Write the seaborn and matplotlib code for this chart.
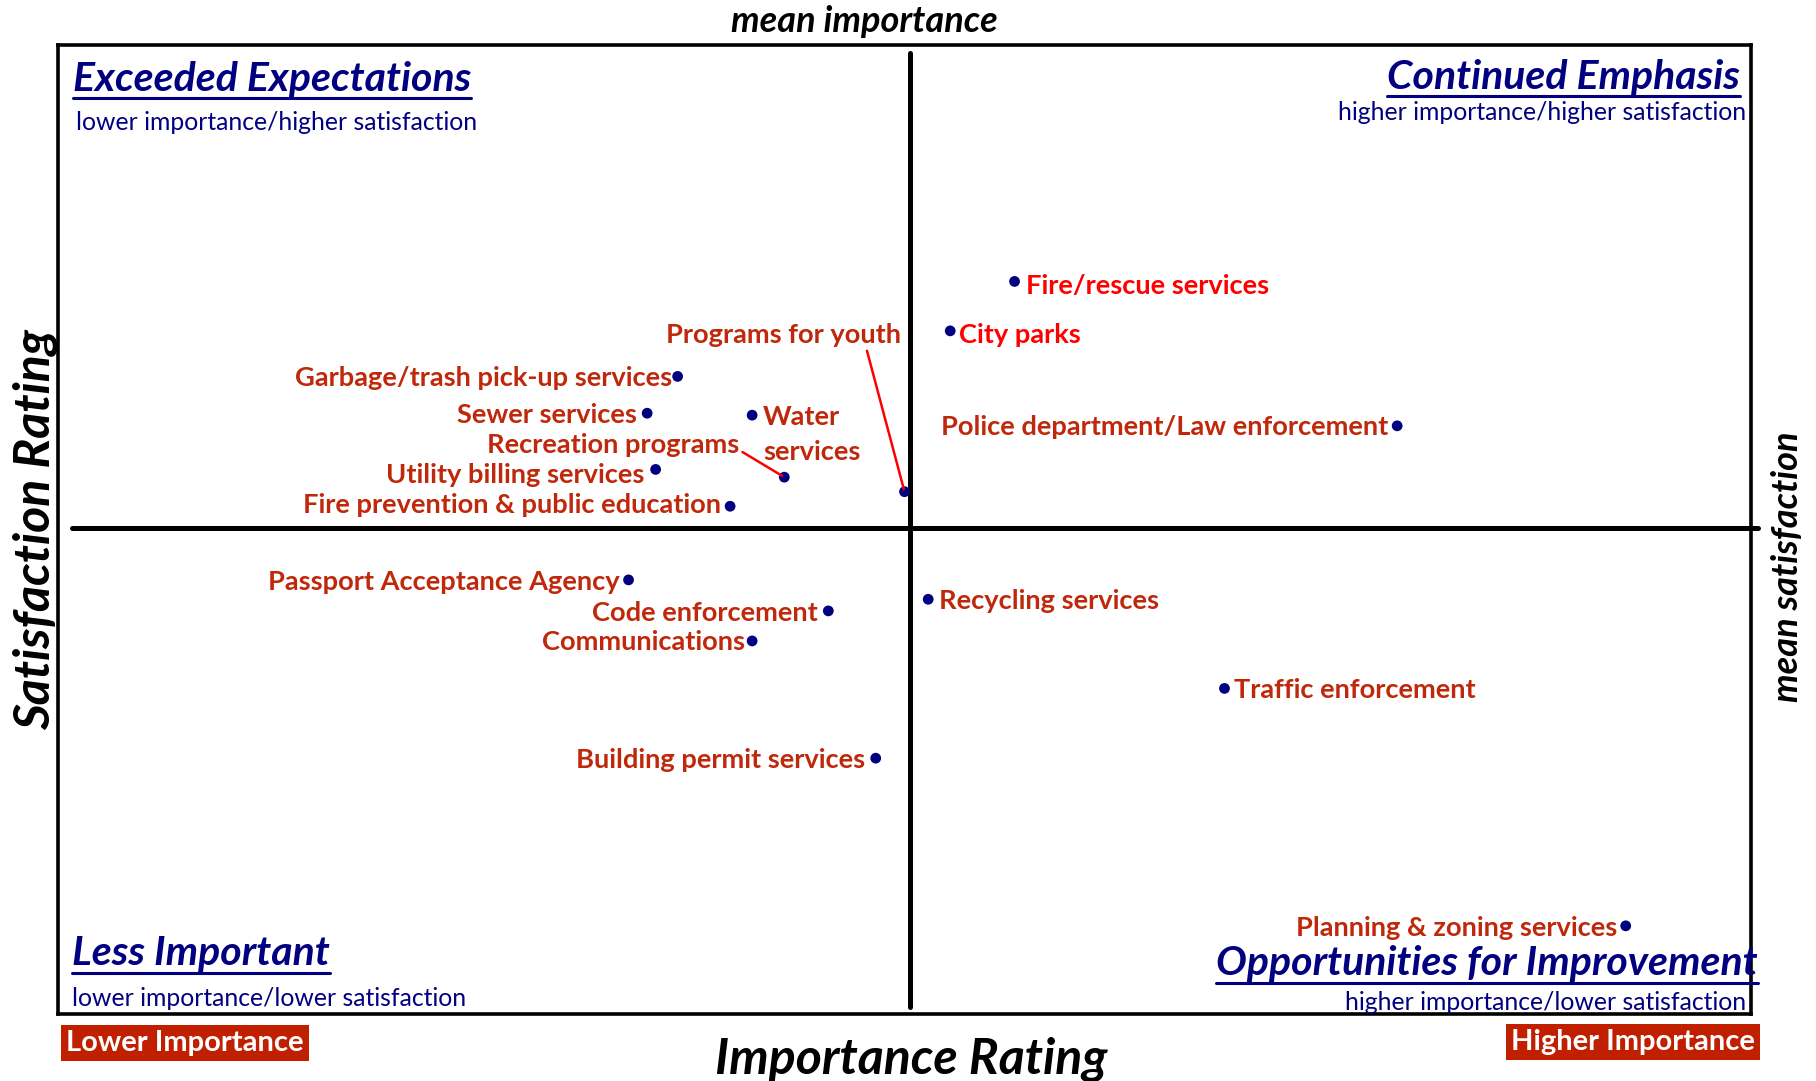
import matplotlib
matplotlib.use("Agg")
import matplotlib.pyplot as plt
import seaborn as sns
import pandas as pd
from matplotlib.lines import Line2D

# importance / satisfaction scores (scaled 0-100 across the plot frame)
services = [
    "Fire/rescue services", "City parks", "Programs for youth",
    "Garbage/trash pick-up services", "Sewer services", "Water\nservices",
    "Recreation programs", "Utility billing services",
    "Fire prevention & public education", "Police department/Law enforcement",
    "Passport Acceptance Agency", "Code enforcement", "Communications",
    "Building permit services", "Recycling services", "Traffic enforcement",
    "Planning & zoning services",
]
importance = [56.5, 52.7, 50.0, 36.6, 34.8, 41.0, 42.9, 35.3, 39.7, 79.1,
              33.7, 45.5, 41.0, 48.3, 51.4, 68.9, 92.6]
satisfaction = [75.6, 70.5, 53.9, 65.8, 62.0, 61.8, 55.4, 56.2, 52.4, 60.7,
                44.8, 41.6, 38.5, 26.4, 42.8, 33.6, 9.1]
mean_importance = 50.3
mean_satisfaction = 50.2

NAVY = "#000080"
DARK_RED = "#C0280B"
BRIGHT_RED = "#FF0000"
BOX_RED = "#C02000"

# label placement: dx, dy (points), ha, va, color, leader relpos
label_layout = {
    "Fire/rescue services": (8, -3.5, "left", "center", BRIGHT_RED, None),
    "City parks": (6, -3, "left", "center", BRIGHT_RED, None),
    "Programs for youth": (-2.5, 112.5, "right", "center", DARK_RED, (0.85, 0.05)),
    "Garbage/trash pick-up services": (-4, -1.5, "right", "center", DARK_RED, None),
    "Sewer services": (-7.5, -1.5, "right", "center", DARK_RED, None),
    "Water\nservices": (8, 7, "left", "top", DARK_RED, None),
    "Recreation programs": (-32.5, 23, "right", "center", DARK_RED, (1.0, 0.3)),
    "Utility billing services": (-8, -4, "right", "center", DARK_RED, None),
    "Fire prevention & public education": (-6.7, 1, "right", "center", DARK_RED, None),
    "Police department/Law enforcement": (-6.7, -0.5, "right", "center", DARK_RED, None),
    "Passport Acceptance Agency": (-6.7, -1.5, "right", "center", DARK_RED, None),
    "Code enforcement": (-7.5, -1.5, "right", "center", DARK_RED, None),
    "Communications": (-5, -0.8, "right", "center", DARK_RED, None),
    "Building permit services": (-7.5, -1.5, "right", "center", DARK_RED, None),
    "Recycling services": (7.5, -1.5, "left", "center", DARK_RED, None),
    "Traffic enforcement": (6.7, -0.8, "left", "center", DARK_RED, None),
    "Planning & zoning services": (-6, -1.5, "right", "center", DARK_RED, None),
}

df = pd.DataFrame({"service": services, "importance": importance,
                   "satisfaction": satisfaction})

sns.set_style("white")
plt.rcParams["font.family"] = ["Lato", "DejaVu Sans"]

W, H = 1816, 1081
fig = plt.figure(figsize=(W / 100, H / 100), dpi=100)
ax = fig.add_axes([58 / W, 1 - 1014 / H, (1751 - 58) / W, (1014 - 45) / H])
ax.set_xlim(0, 100)
ax.set_ylim(0, 100)
ax.set_xticks([])
ax.set_yticks([])
for sp in ax.spines.values():
    sp.set_visible(True)
    sp.set_color("black")
    sp.set_linewidth(2.6)

ax.axvline(mean_importance, ymin=0.007, ymax=0.992, color="black", lw=3.6, zorder=2)
ax.axhline(mean_satisfaction, xmin=0.008, xmax=1.004, color="black", lw=3.6,
           zorder=2, clip_on=False)

sns.scatterplot(data=df, x="importance", y="satisfaction", color=NAVY, s=60,
                edgecolor="none", ax=ax, legend=False, zorder=4)
ax.set_xlabel("")
ax.set_ylabel("")

for _, row in df.iterrows():
    dx, dy, ha, va, col, rel = label_layout[row["service"]]
    kw = {}
    if rel is not None:
        kw["arrowprops"] = dict(arrowstyle="-", color=BRIGHT_RED, lw=1.8,
                                relpos=rel, shrinkA=0, shrinkB=2)
    ax.annotate(row["service"], (row["importance"], row["satisfaction"]),
                xytext=(dx, dy), textcoords="offset points", ha=ha, va=va,
                color=col, fontsize=19.6, fontweight="bold", linespacing=1.55,
                zorder=5, **kw)


def fx(px):
    return px / W


def fy(py):
    return 1 - py / H


# quadrant titles (underlined) and descriptions
titles = [
    ("Exceeded Expectations", 73, 90.5, "left"),
    ("Continued Emphasis", 1740, 88.5, "right"),
    ("Less Important", 72, 965.5, "left"),
    ("Opportunities for Improvement", 1758, 975.5, "right"),
]
title_objs = []
for txt, x, y, ha in titles:
    t = fig.text(fx(x), fy(y), txt, ha=ha, va="baseline", color=NAVY,
                 fontsize=29.5, fontweight="bold", fontstyle="italic", zorder=6)
    title_objs.append((t, y))

subs = [
    ("lower importance/higher satisfaction", 76, 129.5, "left"),
    ("higher importance/higher satisfaction", 1746, 120.5, "right"),
    ("lower importance/lower satisfaction", 72, 1005.5, "left"),
    ("higher importance/lower satisfaction", 1746, 1009.5, "right"),
]
for txt, x, y, ha in subs:
    fig.text(fx(x), fy(y), txt, ha=ha, va="baseline", color=NAVY, fontsize=17.8)

fig.text(fx(864), fy(22), "mean importance", ha="center", va="center",
         fontsize=26, fontweight="bold", fontstyle="italic", color="black")
fig.text(fx(1787), fy(567), "mean satisfaction", ha="center", va="center",
         rotation=90, fontsize=26, fontweight="bold", fontstyle="italic",
         color="black")
fig.text(fx(35), fy(530), "Satisfaction Rating", ha="center", va="center",
         rotation=90, fontsize=36, fontweight="bold", fontstyle="italic",
         color="black")
fig.text(fx(911), fy(1059), "Importance Rating", ha="center", va="center",
         fontsize=36, fontweight="bold", fontstyle="italic", color="black")

fig.text(fx(66), fy(1043), "Lower Importance", ha="left", va="center",
         fontsize=21, fontweight="bold", color="white",
         bbox=dict(boxstyle="square,pad=0.18", fc=BOX_RED, ec="none"))
fig.text(fx(1755), fy(1042), "Higher Importance", ha="right", va="center",
         fontsize=21, fontweight="bold", color="white",
         bbox=dict(boxstyle="square,pad=0.18", fc=BOX_RED, ec="none"))

# underline the quadrant titles
fig.canvas.draw()
renderer = fig.canvas.get_renderer()
for t, y in title_objs:
    bb = t.get_window_extent(renderer)
    yl = fy(y + 7)
    fig.add_artist(Line2D([bb.x0 / W, bb.x1 / W], [yl, yl], color=NAVY,
                          lw=2.2, transform=fig.transFigure))

fig.savefig("out.png", dpi=100)
